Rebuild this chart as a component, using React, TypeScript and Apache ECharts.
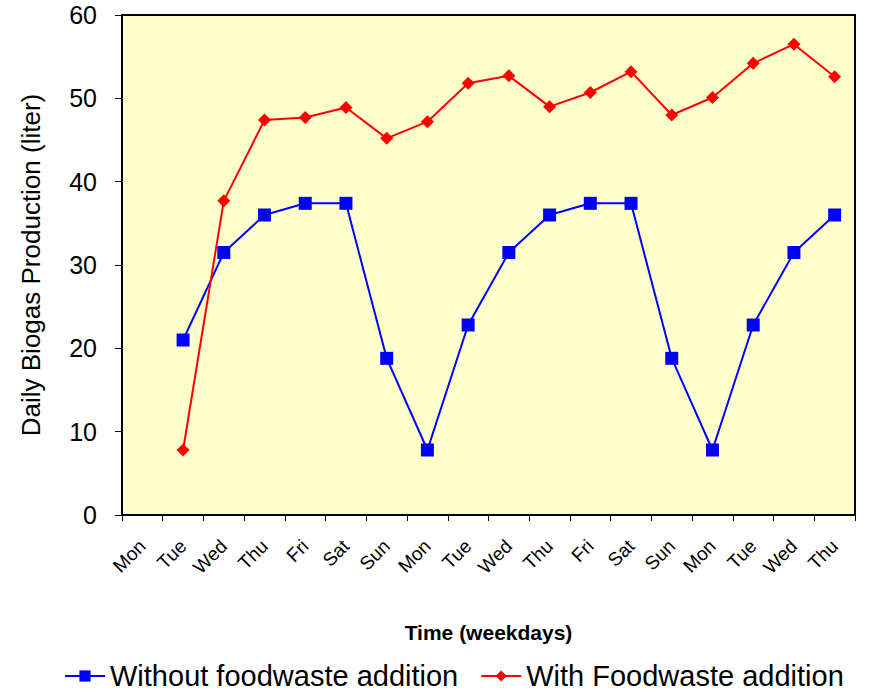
import React, { useEffect, useRef } from "react";
import * as echarts from "echarts";

const categories = ["Mon", "Tue", "Wed", "Thu", "Fri", "Sat", "Sun", "Mon", "Tue", "Wed", "Thu", "Fri", "Sat", "Sun", "Mon", "Tue", "Wed", "Thu"];
const withoutFoodwaste = [null, 21.0, 31.5, 36.0, 37.4, 37.4, 18.8, 7.8, 22.8, 31.5, 36.0, 37.4, 37.4, 18.8, 7.8, 22.8, 31.5, 36.0];
const withFoodwaste = [null, 7.8, 37.7, 47.4, 47.7, 48.9, 45.2, 47.2, 51.8, 52.7, 49.0, 50.7, 53.2, 48.0, 50.1, 54.2, 56.5, 52.6];

const FONT = "Liberation Sans, Arial, sans-serif";

export default function App() {
  const ref = useRef<HTMLDivElement>(null);
  useEffect(() => {
    if (!ref.current) return;
    const chart = echarts.init(ref.current, undefined, { renderer: "svg" });
    chart.setOption({
      animation: false,
      textStyle: { fontFamily: FONT },
      grid: {
        left: 122,
        right: 22,
        top: 15,
        bottom: 177,
        show: true,
        backgroundColor: "#FFFFCC",
        borderColor: "#000",
        borderWidth: 2,
      },
      legend: {
        top: 661,
        left: 64,
        padding: 0,
        itemWidth: 40,
        itemHeight: 14,
        itemGap: 22,
        textStyle: { fontFamily: FONT, fontSize: 29, color: "#000", lineHeight: 30 },
        data: ["Without foodwaste addition", "With Foodwaste addition"],
      },
      xAxis: {
        type: "category",
        data: categories,
        boundaryGap: true,
        name: "Time (weekdays)",
        nameLocation: "middle",
        nameGap: 107,
        nameTextStyle: { fontFamily: FONT, fontSize: 21, fontWeight: "bold", color: "#000" },
        axisLine: { lineStyle: { color: "#000", width: 2 } },
        axisTick: { show: true, length: 6, lineStyle: { color: "#000", width: 1 } },
        axisLabel: { rotate: 45, fontSize: 19, color: "#000", margin: 28, interval: 0 },
        splitLine: { show: false },
      },
      yAxis: {
        type: "value",
        min: 0,
        max: 60,
        interval: 10,
        name: "Daily Biogas Production (liter)",
        nameLocation: "middle",
        nameGap: 78,
        nameTextStyle: { fontFamily: FONT, fontSize: 26, color: "#000" },
        axisLine: { show: true, lineStyle: { color: "#000", width: 2 } },
        axisTick: { show: true, length: 7, lineStyle: { color: "#000", width: 1 } },
        axisLabel: { fontSize: 25, color: "#000", margin: 25 },
        splitLine: { show: false },
      },
      series: [
        {
          name: "Without foodwaste addition",
          type: "line",
          data: withoutFoodwaste,
          color: "#0000FF",
          symbol: "rect",
          symbolSize: 13,
          lineStyle: { width: 2, color: "#0000FF" },
          itemStyle: { color: "#0000FF" },
          z: 3,
        },
        {
          name: "With Foodwaste addition",
          type: "line",
          data: withFoodwaste,
          color: "#FF0000",
          symbol: "diamond",
          symbolSize: 13,
          lineStyle: { width: 2, color: "#FF0000" },
          itemStyle: { color: "#FF0000" },
          z: 4,
        },
      ],
    });
    return () => chart.dispose();
  }, []);
  return <div ref={ref} style={{ width: 877, height: 692, position: "absolute", left: 0, top: 0 }} />;
}
